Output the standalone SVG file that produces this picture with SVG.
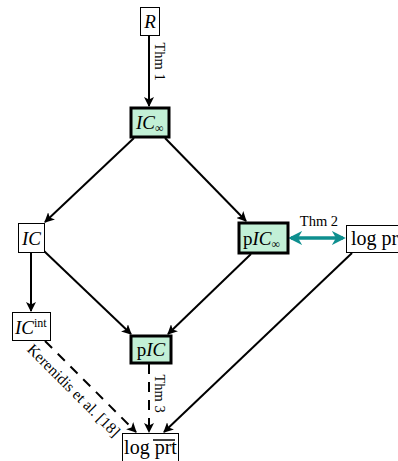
<svg xmlns="http://www.w3.org/2000/svg" width="398" height="461" viewBox="0 0 398 461">
  <style>
    .box { fill: #ffffff; stroke: #000000; stroke-width: 1; }
    .hl { fill: #c2f0d6; stroke: #000000; stroke-width: 3; }
    .lbl { font-family: "Liberation Serif", "Times New Roman", serif; font-size: 19px; fill: #000000; }
    .it { font-style: italic; }
    .sm { font-size: 12px; }
    .note { font-family: "Liberation Serif", "Times New Roman", serif; font-size: 14.5px; fill: #000000; }
    .edge { stroke: #000000; stroke-width: 2; fill: none; }
    .dash { stroke-dasharray: 10 8; }
    .teal { stroke: #0e8f8f; stroke-width: 3.5; fill: none; }
  </style>
  <defs>
    <marker id="arr" viewBox="0 0 10 10" refX="9" refY="5" markerWidth="5" markerHeight="5" markerUnits="strokeWidth" orient="auto">
      <path d="M0,0 L10,5 L0,10 L2.5,5 Z" fill="#000000"/>
    </marker>
    <marker id="tarr" viewBox="0 0 10 10" refX="8" refY="5" markerWidth="4" markerHeight="4" markerUnits="strokeWidth" orient="auto-start-reverse">
      <path d="M0,0 L10,5 L0,10 L3,5 Z" fill="#0e8f8f"/>
    </marker>
  </defs>

  <!-- connectors -->
  <g id="edges">
    <line class="edge" x1="149" y1="35" x2="149" y2="106" marker-end="url(#arr)"/>
    <line class="edge" x1="134" y1="138" x2="45" y2="222" marker-end="url(#arr)"/>
    <line class="edge" x1="165" y1="138" x2="246" y2="221" marker-end="url(#arr)"/>
    <line class="edge" x1="31" y1="252" x2="31" y2="311" marker-end="url(#arr)"/>
    <line class="edge" x1="44" y1="251" x2="131" y2="334" marker-end="url(#arr)"/>
    <line class="edge" x1="251" y1="254" x2="168" y2="334" marker-end="url(#arr)"/>
    <line class="edge dash" x1="149" y1="364" x2="149" y2="432" marker-end="url(#arr)"/>
    <line class="edge dash" x1="45" y1="341" x2="136" y2="432" marker-end="url(#arr)"/>
    <line class="edge" x1="352" y1="253" x2="164" y2="432" marker-end="url(#arr)"/>
    <line class="teal" x1="291" y1="238" x2="343" y2="238" marker-start="url(#tarr)" marker-end="url(#tarr)"/>
    <text class="note" transform="translate(155,61.5) rotate(90)" text-anchor="middle">Thm 1</text>
    <text class="note" x="319" y="226" text-anchor="middle">Thm 2</text>
    <text class="note" transform="translate(155,393.5) rotate(90)" text-anchor="middle">Thm 3</text>
    <text class="note" transform="translate(70,394) rotate(45)" text-anchor="middle" style="font-size:15.5px">Kerenidis et al. [18]</text>
  </g>

  <g id="n-R">
    <rect class="box" x="140.5" y="7.5" width="19" height="28"/>
    <text class="lbl it" x="150" y="28" text-anchor="middle">R</text>
  </g>

  <g id="n-ICinf">
    <rect class="hl" x="131" y="108" width="38" height="29"/>
    <text class="lbl" x="136" y="129"><tspan class="it">IC</tspan><tspan class="sm" dy="3">∞</tspan></text>
  </g>

  <g id="n-IC">
    <rect class="box" x="18.5" y="223.5" width="26" height="29"/>
    <text class="lbl it" x="31.5" y="245" text-anchor="middle">IC</text>
  </g>

  <g id="n-pICinf">
    <rect class="hl" x="239" y="223" width="49" height="30"/>
    <text class="lbl" x="243" y="245">p<tspan class="it">IC</tspan><tspan class="sm" dy="3">∞</tspan></text>
  </g>

  <g id="n-logprt">
    <rect class="box" x="346.5" y="225.5" width="70" height="27"/>
    <text class="lbl" x="351" y="245" style="font-size:20px">log prt</text>
  </g>

  <g id="n-ICint">
    <rect class="box" x="12.5" y="312.5" width="38" height="28"/>
    <text class="lbl" x="15" y="334"><tspan class="it">IC</tspan><tspan class="sm" dy="-7">int</tspan></text>
  </g>

  <g id="n-pIC">
    <rect class="hl" x="131" y="336" width="40" height="27"/>
    <text class="lbl" x="151" y="356" text-anchor="middle">p<tspan class="it">IC</tspan></text>
  </g>

  <g id="n-logprtbar">
    <rect class="box" x="122.5" y="433.5" width="56" height="28"/>
    <text class="lbl" x="150.5" y="454" text-anchor="middle" style="font-size:20px">log prt</text>
    <line x1="153" y1="440" x2="175" y2="440" stroke="#000000" stroke-width="1.5"/>
  </g>
</svg>
